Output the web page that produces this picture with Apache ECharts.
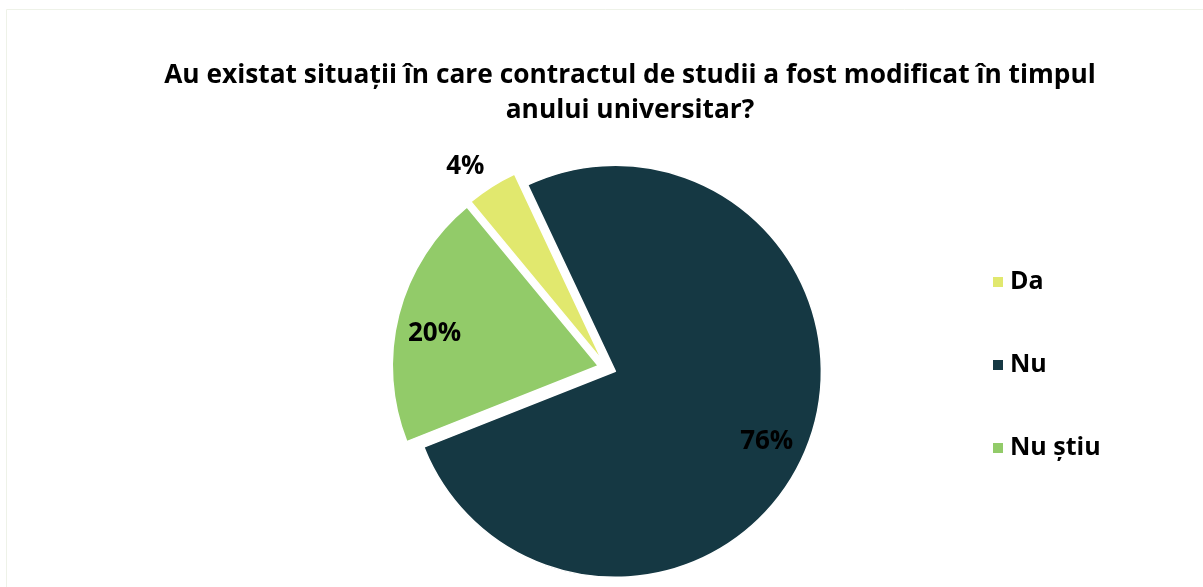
<!DOCTYPE html>
<html>
<head>
<meta charset="utf-8">
<script src="https://cdn.jsdelivr.net/npm/echarts@6/dist/echarts.min.js"></script>
<style>html,body{margin:0;padding:0;background:#fff}#c{width:1203px;height:587px}</style>
</head>
<body>
<div id="c"></div>
<script>
const titleText = 'Au existat situații în care contractul de studii a fost modificat în timpul\nanului universitar?';
const categories = ['Da', 'Nu', 'Nu știu'];
const values = [4, 76, 20];
const colors = ['#E1E86E', '#153843', '#92CB69'];

const chart = echarts.init(document.getElementById('c'), null, {renderer: 'canvas'});
const fontFamily = '"Open Sans", "Noto Sans", sans-serif';
const center = [607, 368];
const R = 206;

const pieData = categories.map((n, i) => ({
  name: n, value: values[i], selected: true,
  itemStyle: {color: colors[i]}
}));
const labelData = categories.map((n, i) => ({
  name: n, value: values[i], selected: true,
  itemStyle: {color: 'rgba(0,0,0,0)'},
  label: i === 0 ? {position: 'outside'} : {position: 'inside'},
  labelLine: {show: false, length: 8, length2: 0}
}));

chart.setOption({
  backgroundColor: '#fff',
  animation: false,
  title: {
    text: titleText,
    left: 625, top: 53, textAlign: 'center',
    textStyle: {fontFamily, fontSize: 26.3, fontWeight: 'bold', color: '#000', lineHeight: 35}
  },
  legend: {
    orient: 'vertical', left: 986, top: 261,
    icon: 'rect', itemWidth: 12, itemHeight: 12, itemGap: 51,
    data: categories,
    textStyle: {fontFamily, fontSize: 25, fontWeight: 'bold', color: '#000', lineHeight: 32, padding: [0, 0, 0, 1]}
  },
  graphic: [{
    type: 'rect', silent: true,
    shape: {x: 6.5, y: 9.5, width: 1300, height: 700},
    style: {fill: 'none', stroke: '#EEF2E8', lineWidth: 1}
  }],
  series: [{
    type: 'pie', center, radius: [0, R],
    startAngle: 129.6, clockwise: true,
    selectedMode: 'multiple', selectedOffset: 9,
    data: pieData,
    itemStyle: {borderColor: '#fff', borderWidth: 1.5},
    label: {show: false}, labelLine: {show: false},
    emphasis: {disabled: true}, select: {disabled: false}
  }, {
    type: 'pie', center, radius: [120, R],
    startAngle: 129.6, clockwise: true,
    selectedMode: 'multiple', selectedOffset: 9,
    silent: true, legendHoverLink: false,
    data: labelData,
    label: {show: true, formatter: '{c}%', fontFamily, fontSize: 26, fontWeight: 'bold', color: '#000'},
    labelLayout: function (p) {
      return p.dataIndex === 0 ? {dx: 2, dy: -13} : {dx: -3, dy: 9};
    },
    emphasis: {disabled: true}
  }]
});
</script>
</body>
</html>
